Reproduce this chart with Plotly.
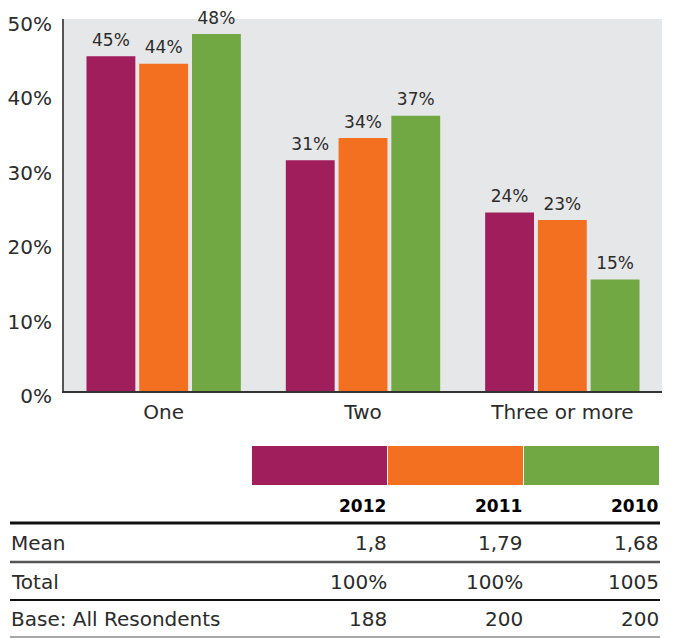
import plotly.graph_objects as go

categories = ["One", "Two", "Three or more"]
years = ["2012", "2011", "2010"]
values_2012 = [45, 31, 24]
values_2011 = [44, 34, 23]
values_2010 = [48, 37, 15]
colors = ["#A01E5C", "#F37021", "#72A843"]

row_labels = ["Mean", "Total", "Base: All Resondents"]
mean_vals = ["1,8", "1,79", "1,68"]
total_vals = ["100%", "100%", "1005"]
base_vals = ["188", "200", "200"]

W, H = 673, 638
OFF = 8  # page body margin offset
L, R, T, B = 64 - OFF, 662 - OFF, 19 - OFF, 391 - OFF
FONT = "DejaVu Sans"
TXT = "#2B2B2B"
BARGAP = 0.206

def px(x):
    return (x - OFF - L) / (R - L)

def py(y):
    return (B - (y - OFF)) / (B - T)

fig = go.Figure()
for yr, vals, col in zip(years, [values_2012, values_2011, values_2010], colors):
    fig.add_trace(go.Bar(
        x=categories, y=vals, name=yr, marker=dict(color=col, line=dict(width=0)),
        hoverinfo="x+y",
    ))
for yr, vals in zip(years, [values_2012, values_2011, values_2010]):
    fig.add_trace(go.Scatter(
        x=categories, y=vals, name=yr + " labels", mode="markers+text",
        marker=dict(size=8, opacity=0), text=[f"{v}%" for v in vals],
        textposition="top center", textfont=dict(size=17, color=TXT, family=FONT),
        cliponaxis=False, hoverinfo="skip",
    ))

shapes = []
annotations = []
# legend swatches
sw_edges = [252, 388, 524, 660]
for i, col in enumerate(colors):
    shapes.append(dict(type="rect", xref="paper", yref="paper",
                       x0=px(sw_edges[i]), x1=px(sw_edges[i + 1] - 1),
                       y0=py(485), y1=py(446), fillcolor=col, line=dict(width=0)))
# header
for i, yr in enumerate(years):
    annotations.append(dict(text=f"<b>{yr}</b>", xref="paper", yref="paper",
                            x=px(sw_edges[i + 1]), y=py(506), xanchor="right", yanchor="middle",
                            showarrow=False, font=dict(size=17, color="#000000", family=FONT)))
# rows
row_y = [543, 582, 619]
row_vals = [mean_vals, total_vals, base_vals]
for ry, lab, vals in zip(row_y, row_labels, row_vals):
    annotations.append(dict(text=lab, xref="paper", yref="paper", x=px(9), y=py(ry),
                            xanchor="left", yanchor="middle", showarrow=False,
                            font=dict(size=20, color=TXT, family=FONT)))
    for i, v in enumerate(vals):
        annotations.append(dict(text=v, xref="paper", yref="paper", x=px(sw_edges[i + 1] + 1), y=py(ry),
                                xanchor="right", yanchor="middle", showarrow=False,
                                font=dict(size=20, color=TXT, family=FONT)))
# rule lines
for ly, lc, lw in [(523, "#111111", 3), (562, "#555555", 2.5), (600, "#111111", 2), (637, "#8A8A8A", 1.5)]:
    shapes.append(dict(type="line", xref="paper", yref="paper", x0=px(10), x1=px(660),
                       y0=py(ly), y1=py(ly), line=dict(color=lc, width=lw)))

fig.update_layout(
    width=W, height=H,
    margin=dict(l=L, r=W - R, t=T, b=H - B, pad=0, autoexpand=False),
    paper_bgcolor="white", plot_bgcolor="#E6E7E8",
    barmode="group", bargap=BARGAP, bargroupgap=0.074,
    scattermode="group", scattergap=BARGAP,
    showlegend=False,
    font=dict(family=FONT, color=TXT),
    shapes=shapes, annotations=annotations,
    xaxis=dict(showgrid=False, showline=True, linecolor="#333333", linewidth=2, automargin=False,
               ticks="", tickfont=dict(size=20, color=TXT, family=FONT), ticklabelstandoff=2),
    yaxis=dict(range=[0, 50], dtick=10, ticksuffix="%", showgrid=False, zeroline=False, automargin=False,
               showline=True, linecolor="#555555", linewidth=2, ticks="",
               ticklabeloverflow="allow", ticklabelshift=5,
               tickfont=dict(size=20, color=TXT, family=FONT), ticklabelstandoff=6),
)

fig.write_html("out.html")
